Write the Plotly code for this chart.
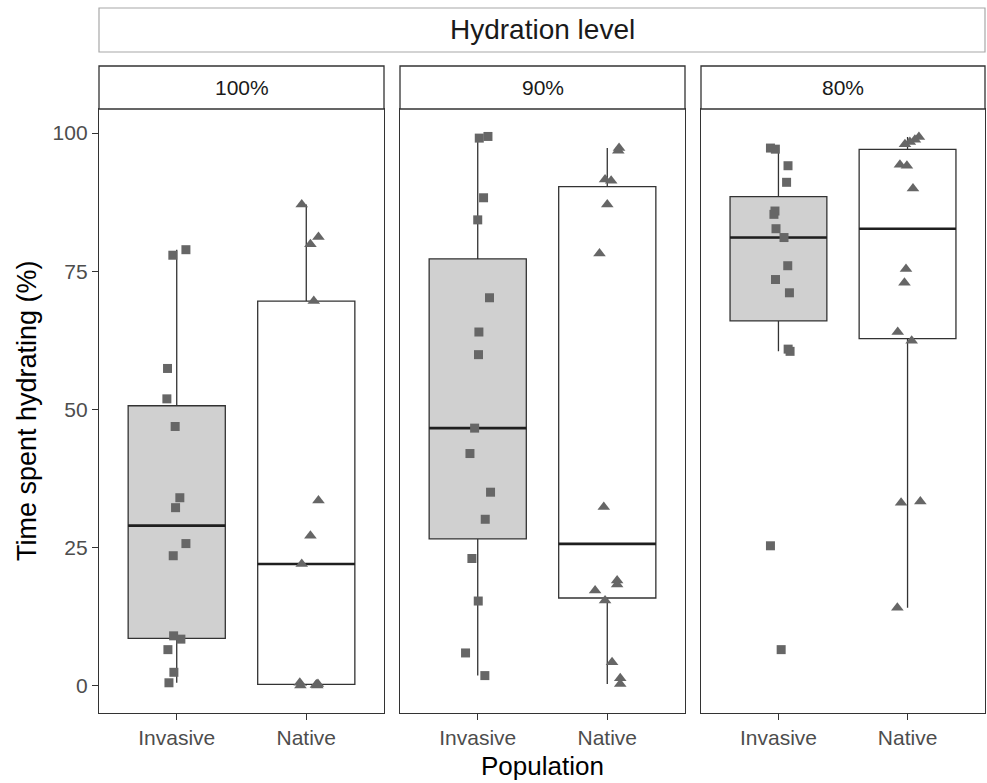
import numpy as np
import plotly.graph_objects as go

W, H = 987, 783

# ---- data -------------------------------------------------------------
levels = ["100%", "90%", "80%"]
populations = ["Invasive", "Native"]
y_ticks = [0, 25, 50, 75, 100]

# time spent hydrating (%) for each animal
invasive_100 = [78.9, 77.9, 57.4, 51.9, 46.9, 34.0, 32.2, 25.7, 23.5, 9.0, 8.4, 6.5, 2.4, 0.5]
native_100 = [87.1, 81.2, 79.9, 69.6, 33.5, 27.1, 22.0, 0.5, 0.0, 0.2, 0.0, 0.3, 0.1]
invasive_90 = [99.4, 99.1, 88.3, 84.3, 70.2, 64.0, 59.9, 46.6, 42.0, 35.0, 30.1, 23.0, 15.3, 5.9, 1.8]
native_90 = [97.3, 96.8, 91.6, 91.4, 87.1, 78.2, 32.3, 19.0, 18.3, 17.2, 15.4, 4.2, 1.3, 0.3]
invasive_80 = [97.3, 97.1, 94.1, 91.1, 85.9, 85.3, 82.7, 81.1, 76.0, 73.5, 71.1, 60.9, 60.5, 25.3, 6.5]
native_80 = [99.3, 98.8, 98.4, 98.0, 94.3, 94.1, 90.0, 75.4, 72.9, 64.0, 62.4, 33.3, 33.1, 14.1]

# horizontal jitter of each point (category units)
jitter_inv_100 = [0.071, -0.030, -0.071, -0.076, -0.012, 0.024, -0.009, 0.071, -0.027, -0.024, 0.032, -0.068, -0.022, -0.060]
jitter_nat_100 = [-0.035, 0.094, 0.032, 0.058, 0.094, 0.032, -0.035, -0.050, -0.045, 0.080, 0.085, 0.090, 0.075]
jitter_inv_90 = [0.079, 0.012, 0.045, 0.0, 0.091, 0.009, 0.006, -0.024, -0.060, 0.099, 0.058, -0.045, 0.004, -0.094, 0.055]
jitter_nat_90 = [0.091, 0.085, -0.017, 0.030, 0.0, -0.060, -0.027, 0.076, 0.076, -0.094, -0.017, 0.037, 0.100, 0.100]
jitter_inv_80 = [-0.062, -0.024, 0.074, 0.063, -0.027, -0.035, -0.019, 0.043, 0.072, -0.023, 0.085, 0.075, 0.090, -0.062, 0.021]
jitter_nat_80 = [0.088, 0.057, 0.018, -0.020, -0.059, -0.005, 0.042, -0.012, -0.024, -0.076, 0.032, 0.099, -0.050, -0.079]

values = {
    "100%": (invasive_100, native_100),
    "90%": (invasive_90, native_90),
    "80%": (invasive_80, native_80),
}
jitters = {
    "100%": (jitter_inv_100, jitter_nat_100),
    "90%": (jitter_inv_90, jitter_nat_90),
    "80%": (jitter_inv_80, jitter_nat_80),
}

# ---- styling ------------------------------------------------------------
FONT = "Liberation Sans, Arial, sans-serif"
DARK = "#333333"
POINT = "#666666"
BOX_FILL = {"Invasive": "#d0d0d0", "Native": "#ffffff"}
SYMBOL = {"Invasive": "square", "Native": "triangle-up"}
MSIZE = {"Invasive": 9, "Native": 11}
BOX_WIDTH = 0.75

# panel placement in pixels
panels_px = [(99, 384), (400, 685), (701, 985)]
panel_top, panel_bottom = 109, 713
strip_top = 66
outer_top, outer_bottom = 8, 52


def fx(px):
    return px / W


def fy(py):
    return (H - py) / H


def box_stats(v):
    v = np.asarray(v, dtype=float)
    q1, med, q3 = np.percentile(v, [25, 50, 75])
    iqr = q3 - q1
    lo = v[v >= q1 - 1.5 * iqr].min()
    hi = v[v <= q3 + 1.5 * iqr].max()
    return q1, med, q3, lo, hi


all_vals = np.concatenate([np.asarray(v, float) for pair in values.values() for v in pair])
vmin, vmax = all_vals.min(), all_vals.max()
pad = 0.05 * (vmax - vmin)
y_range = [vmin - pad, vmax + pad]

fig = go.Figure()

for i, lvl in enumerate(levels):
    xa = "x" if i == 0 else f"x{i + 1}"
    ya = "y" if i == 0 else f"y{i + 1}"
    for j, pop in enumerate(populations):
        pos = j + 1
        v = values[lvl][j]
        q1, med, q3, lo, hi = box_stats(v)
        fig.add_trace(go.Box(
            x=[pos], q1=[q1], median=[med], q3=[q3],
            lowerfence=[lo], upperfence=[hi],
            width=BOX_WIDTH, whiskerwidth=0, boxpoints=False,
            fillcolor=BOX_FILL[pop], line=dict(color=DARK, width=1.3),
            xaxis=xa, yaxis=ya, showlegend=False, hoverinfo="skip",
        ))
        # thicker median bar
        fig.add_trace(go.Scatter(
            x=[pos - BOX_WIDTH / 2, pos + BOX_WIDTH / 2], y=[med, med],
            mode="lines", line=dict(color="#1f1f1f", width=2.6),
            xaxis=xa, yaxis=ya, showlegend=False, hoverinfo="skip",
        ))
        jit = jitters[lvl][j]
        fig.add_trace(go.Scatter(
            x=[pos + d for d in jit], y=v, mode="markers",
            marker=dict(symbol=SYMBOL[pop], size=MSIZE[pop], color=POINT,
                        line=dict(width=0)),
            xaxis=xa, yaxis=ya, showlegend=False, hoverinfo="skip",
        ))

layout = dict(
    width=W, height=H,
    margin=dict(l=0, r=0, t=0, b=0),
    paper_bgcolor="white", plot_bgcolor="white",
    font=dict(family=FONT),
    showlegend=False,
)

shapes = []
annotations = []
for i, (x0, x1) in enumerate(panels_px):
    sfx = "" if i == 0 else str(i + 1)
    layout[f"xaxis{sfx}"] = dict(
        domain=[fx(x0), fx(x1)], range=[0.4, 2.6],
        tickvals=[1, 2], ticktext=populations,
        ticks="outside", ticklen=6, tickwidth=1.3, tickcolor=DARK,
        showline=True, linecolor=DARK, linewidth=1.3, mirror=True,
        showgrid=False, zeroline=False, fixedrange=True,
        tickfont=dict(size=21, color="#4d4d4d", family=FONT),
        anchor="y" if i == 0 else f"y{i + 1}",
    )
    layout[f"yaxis{sfx}"] = dict(
        domain=[fy(panel_bottom), fy(panel_top)], range=y_range,
        tickvals=y_ticks, showticklabels=(i == 0),
        ticks="outside" if i == 0 else "", ticklen=6, tickwidth=1.3,
        tickcolor=DARK,
        showline=True, linecolor=DARK, linewidth=1.3, mirror=True,
        showgrid=False, zeroline=False, fixedrange=True,
        tickfont=dict(size=21, color="#4d4d4d", family=FONT),
        anchor="x" if i == 0 else f"x{i + 1}",
    )
    # facet strip
    shapes.append(dict(type="rect", xref="paper", yref="paper",
                       x0=fx(x0), x1=fx(x1), y0=fy(panel_top), y1=fy(strip_top),
                       fillcolor="white", line=dict(color=DARK, width=1.3)))
    annotations.append(dict(text=levels[i], xref="paper", yref="paper",
                            x=fx((x0 + x1) / 2), y=fy((panel_top + strip_top) / 2),
                            xanchor="center", yanchor="middle", showarrow=False,
                            font=dict(size=21, color="#1a1a1a", family=FONT)))

# outer strip spanning all panels
shapes.append(dict(type="rect", xref="paper", yref="paper",
                   x0=fx(panels_px[0][0]), x1=fx(panels_px[-1][1]),
                   y0=fy(outer_bottom), y1=fy(outer_top),
                   fillcolor="white", line=dict(color="#a8a8a8", width=1.2)))
annotations.append(dict(text="Hydration level", xref="paper", yref="paper",
                        x=fx((panels_px[0][0] + panels_px[-1][1]) / 2),
                        y=fy((outer_top + outer_bottom) / 2),
                        xanchor="center", yanchor="middle", showarrow=False,
                        font=dict(size=28, color="#1a1a1a", family=FONT)))

# axis titles
annotations.append(dict(text="Population", xref="paper", yref="paper",
                        x=fx((panels_px[0][0] + panels_px[-1][1]) / 2), y=fy(766),
                        xanchor="center", yanchor="middle", showarrow=False,
                        font=dict(size=26, color="black", family=FONT)))
annotations.append(dict(text="Time spent hydrating (%)", xref="paper", yref="paper",
                        x=fx(27), y=fy((panel_top + panel_bottom) / 2),
                        xanchor="center", yanchor="middle", showarrow=False,
                        textangle=-90,
                        font=dict(size=27, color="black", family=FONT)))

layout["shapes"] = shapes
layout["annotations"] = annotations
fig.update_layout(**layout)

fig.write_html("out.html", config={"displayModeBar": False})
